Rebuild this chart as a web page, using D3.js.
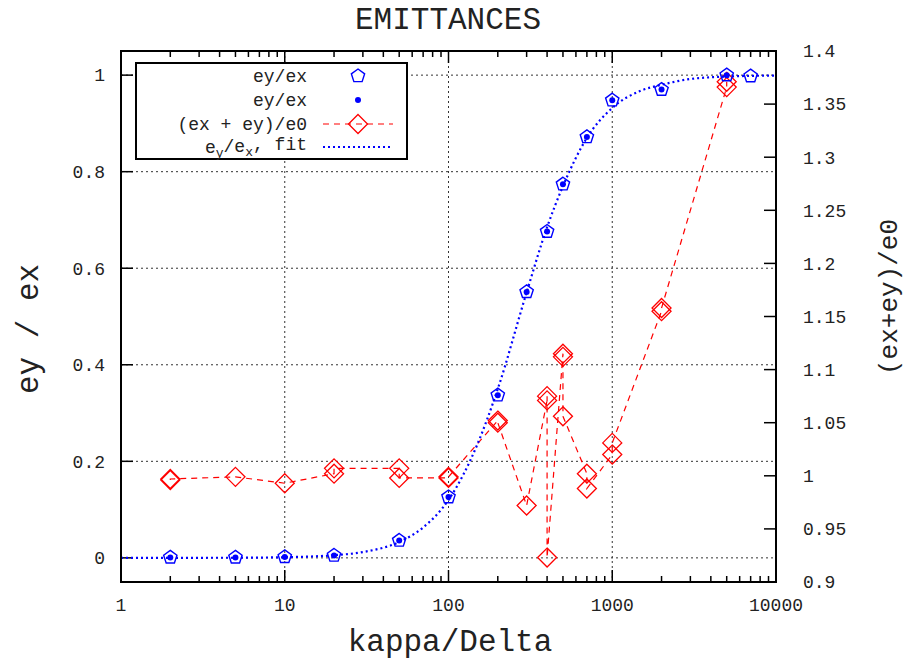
<!DOCTYPE html>
<html>
<head>
<meta charset="utf-8">
<script src="https://cdn.jsdelivr.net/npm/d3@7"></script>
<style>
  body { margin: 0; background: #fff; }
  text { font-family: "Liberation Mono", "Courier New", monospace; fill: #222; }
</style>
</head>
<body>
<div id="chart"></div>
<script>
// data
const pentKappa = [2, 5, 10, 20, 50, 100, 200, 300, 400, 500, 700, 1000, 2000, 5000, 7000];
const pentRatio = [0.001, 0.001, 0.002, 0.005, 0.036, 0.126, 0.337, 0.551, 0.676, 0.774, 0.872, 0.948, 0.970, 1.0, 0.998];

const dotKappa = [2, 5, 10, 20, 50, 100, 200, 300, 400, 500, 700, 1000, 2000, 5000];
const dotRatio = [0.001, 0.001, 0.002, 0.005, 0.036, 0.126, 0.337, 0.551, 0.676, 0.774, 0.872, 0.948, 0.970, 1.0];

const sumKappa = [2, 2, 5, 10, 20, 20, 50, 50, 100, 100, 200, 200, 300, 400, 400, 400, 500, 500, 500, 700, 700, 1000, 1000, 2000, 2000, 5000, 5000];
const sumValue = [0.996, 0.997, 0.999, 0.993, 1.002, 1.007, 1.007, 0.998, 0.998, 0.999, 1.052, 1.050, 0.972, 1.071, 1.075, 0.923, 1.115, 1.112, 1.056, 1.002, 0.988, 1.020, 1.031, 1.155, 1.158, 1.366, 1.371];

const fitKappa = [1, 2, 5, 10, 20, 30, 50, 70, 100, 150, 200, 300, 400, 500, 700, 1000, 1500, 2000, 3000, 5000, 7000, 10000];
const fitRatio = [0.0, 0.0001, 0.0003, 0.0014, 0.0055, 0.012, 0.033, 0.063, 0.12, 0.235, 0.35, 0.55, 0.685, 0.77, 0.87, 0.932, 0.968, 0.98, 0.992, 0.997, 0.9985, 0.999];

const xTicks = [1, 10, 100, 1000, 10000];
const yTicks = [0, 0.2, 0.4, 0.6, 0.8, 1];
const y2Ticks = [0.9, 0.95, 1, 1.05, 1.1, 1.15, 1.2, 1.25, 1.3, 1.35, 1.4];

const W = 907, H = 663;
const mLeft = 121, mRight = 776, mTop = 51, mBottom = 582;

const svg = d3.select("#chart").append("svg")
  .attr("width", W).attr("height", H);

const x = d3.scaleLog().domain([1, 10000]).range([mLeft, mRight]);
const y = d3.scaleLinear().domain([-0.05, 1.05]).range([mBottom, mTop]);
const y2 = d3.scaleLinear().domain([0.9, 1.4]).range([mBottom, mTop]);

// grid
const grid = svg.append("g")
  .attr("stroke", "#333").attr("stroke-width", 1).attr("stroke-dasharray", "2,3");
xTicks.slice(1, -1).forEach(t => {
  grid.append("line").attr("x1", x(t)).attr("x2", x(t)).attr("y1", mTop).attr("y2", mBottom);
});
yTicks.forEach(t => {
  grid.append("line").attr("x1", mLeft).attr("x2", mRight).attr("y1", y(t)).attr("y2", y(t));
});

// minor ticks for the log axis
let minor = [];
for (let d = 1; d < 10000; d *= 10) {
  for (let k = 2; k <= 9; k++) minor.push(d * k);
}

const ticks = svg.append("g").attr("stroke", "#000").attr("stroke-width", 1.5);
xTicks.forEach(t => {
  ticks.append("line").attr("x1", x(t)).attr("x2", x(t)).attr("y1", mBottom).attr("y2", mBottom - 12);
  ticks.append("line").attr("x1", x(t)).attr("x2", x(t)).attr("y1", mTop).attr("y2", mTop + 12);
});
minor.forEach(t => {
  ticks.append("line").attr("x1", x(t)).attr("x2", x(t)).attr("y1", mBottom).attr("y2", mBottom - 6);
  ticks.append("line").attr("x1", x(t)).attr("x2", x(t)).attr("y1", mTop).attr("y2", mTop + 6);
});
yTicks.forEach(t => {
  ticks.append("line").attr("x1", mLeft).attr("x2", mLeft + 12).attr("y1", y(t)).attr("y2", y(t));
});
y2Ticks.forEach(t => {
  ticks.append("line").attr("x1", mRight).attr("x2", mRight - 12).attr("y1", y2(t)).attr("y2", y2(t));
});

// tick labels
svg.append("g").selectAll("text").data(xTicks).join("text")
  .attr("x", d => x(d)).attr("y", 611)
  .attr("text-anchor", "middle").attr("font-size", 18)
  .text(d => d);
svg.append("g").selectAll("text").data(yTicks).join("text")
  .attr("x", 105).attr("y", d => y(d)).attr("dy", "0.35em")
  .attr("text-anchor", "end").attr("font-size", 18)
  .text(d => d3.format("")(d));
svg.append("g").selectAll("text").data(y2Ticks).join("text")
  .attr("x", 803).attr("y", d => y2(d)).attr("dy", "0.35em")
  .attr("text-anchor", "start").attr("font-size", 18)
  .text(d => d3.format("")(d));

// red dashed series
const sumPts = sumKappa.map((k, i) => [k, sumValue[i]]);
svg.append("path")
  .attr("d", d3.line().x(d => x(d[0])).y(d => y2(d[1]))(sumPts))
  .attr("fill", "none").attr("stroke", "#ff0000").attr("stroke-width", 1.2)
  .attr("stroke-dasharray", "6,5");

const diamond = (cx, cy, r) => `M${cx},${cy - r}L${cx + r},${cy}L${cx},${cy + r}L${cx - r},${cy}Z`;
svg.append("g").selectAll("path").data(sumPts).join("path")
  .attr("d", d => diamond(x(d[0]), y2(d[1]), 9.5))
  .attr("fill", "none").attr("stroke", "#ff0000").attr("stroke-width", 1.3);

// fit curve
const fitPts = fitKappa.map((k, i) => [k, fitRatio[i]]);
svg.append("path")
  .attr("d", d3.line().x(d => x(d[0])).y(d => y(d[1])).curve(d3.curveMonotoneX)(fitPts))
  .attr("fill", "none").attr("stroke", "#0000ff").attr("stroke-width", 2.2)
  .attr("stroke-dasharray", "2,3");

// pentagons and dots
const pentagon = (cx, cy, r) => {
  let p = [];
  for (let i = 0; i < 5; i++) {
    const a = -Math.PI / 2 + i * 2 * Math.PI / 5;
    p.push([cx + r * Math.cos(a), cy + r * Math.sin(a)]);
  }
  return "M" + p.map(q => q.join(",")).join("L") + "Z";
};
svg.append("g").selectAll("path").data(pentKappa.map((k, i) => [k, pentRatio[i]])).join("path")
  .attr("d", d => pentagon(x(d[0]), y(d[1]), 7))
  .attr("fill", "none").attr("stroke", "#0000ff").attr("stroke-width", 1.4);
svg.append("g").selectAll("circle").data(dotKappa.map((k, i) => [k, dotRatio[i]])).join("circle")
  .attr("cx", d => x(d[0])).attr("cy", d => y(d[1])).attr("r", 3)
  .attr("fill", "#0000ff");

// frame
svg.append("rect")
  .attr("x", mLeft).attr("y", mTop).attr("width", mRight - mLeft).attr("height", mBottom - mTop)
  .attr("fill", "none").attr("stroke", "#000").attr("stroke-width", 2);

// legend
const lg = svg.append("g");
lg.append("rect").attr("x", 136).attr("y", 63).attr("width", 271).attr("height", 96)
  .attr("fill", "#fff").attr("stroke", "#000").attr("stroke-width", 2);
const rows = [76, 100, 124, 147];
const lx0 = 323, lx1 = 393, lxm = 358;
lg.append("text").attr("x", 307).attr("y", rows[0]).attr("dy", "0.35em")
  .attr("text-anchor", "end").attr("font-size", 18).text("ey/ex");
lg.append("path").attr("d", pentagon(lxm, rows[0], 7))
  .attr("fill", "none").attr("stroke", "#0000ff").attr("stroke-width", 1.4);
lg.append("text").attr("x", 307).attr("y", rows[1]).attr("dy", "0.35em")
  .attr("text-anchor", "end").attr("font-size", 18).text("ey/ex");
lg.append("circle").attr("cx", lxm).attr("cy", rows[1]).attr("r", 3).attr("fill", "#0000ff");
lg.append("text").attr("x", 307).attr("y", rows[2]).attr("dy", "0.35em")
  .attr("text-anchor", "end").attr("font-size", 18).text("(ex + ey)/e0");
lg.append("line").attr("x1", lx0).attr("x2", lx1).attr("y1", rows[2]).attr("y2", rows[2])
  .attr("stroke", "#ff0000").attr("stroke-width", 1.2).attr("stroke-dasharray", "6,5");
lg.append("path").attr("d", diamond(lxm, rows[2], 9.5))
  .attr("fill", "none").attr("stroke", "#ff0000").attr("stroke-width", 1.3);
const fitLabel = lg.append("text").attr("x", 307).attr("y", rows[3]).attr("dy", "0.35em")
  .attr("text-anchor", "end").attr("font-size", 18);
fitLabel.append("tspan").text("e");
fitLabel.append("tspan").attr("font-size", 13).attr("dy", "0.3em").text("y");
fitLabel.append("tspan").attr("dy", "-0.3em").text("/e");
fitLabel.append("tspan").attr("font-size", 13).attr("dy", "0.3em").text("x");
fitLabel.append("tspan").attr("dy", "-0.3em").text(", fit");
lg.append("line").attr("x1", lx0).attr("x2", lx1).attr("y1", rows[3]).attr("y2", rows[3])
  .attr("stroke", "#0000ff").attr("stroke-width", 2.2).attr("stroke-dasharray", "2,3");

// titles
svg.append("text").attr("x", 448).attr("y", 18).attr("dy", "0.35em")
  .attr("text-anchor", "middle").attr("font-size", 31).text("EMITTANCES");
svg.append("text").attr("x", 450).attr("y", 640).attr("dy", "0.35em")
  .attr("text-anchor", "middle").attr("font-size", 31).text("kappa/Delta");
svg.append("text").attr("transform", "translate(27,329) rotate(-90)").attr("dy", "0.35em")
  .attr("text-anchor", "middle").attr("font-size", 31).text("ey / ex");
svg.append("text").attr("transform", "translate(888,297) rotate(-90)").attr("dy", "0.35em")
  .attr("text-anchor", "middle").attr("font-size", 26).text("(ex+ey)/e0");
</script>
</body>
</html>
